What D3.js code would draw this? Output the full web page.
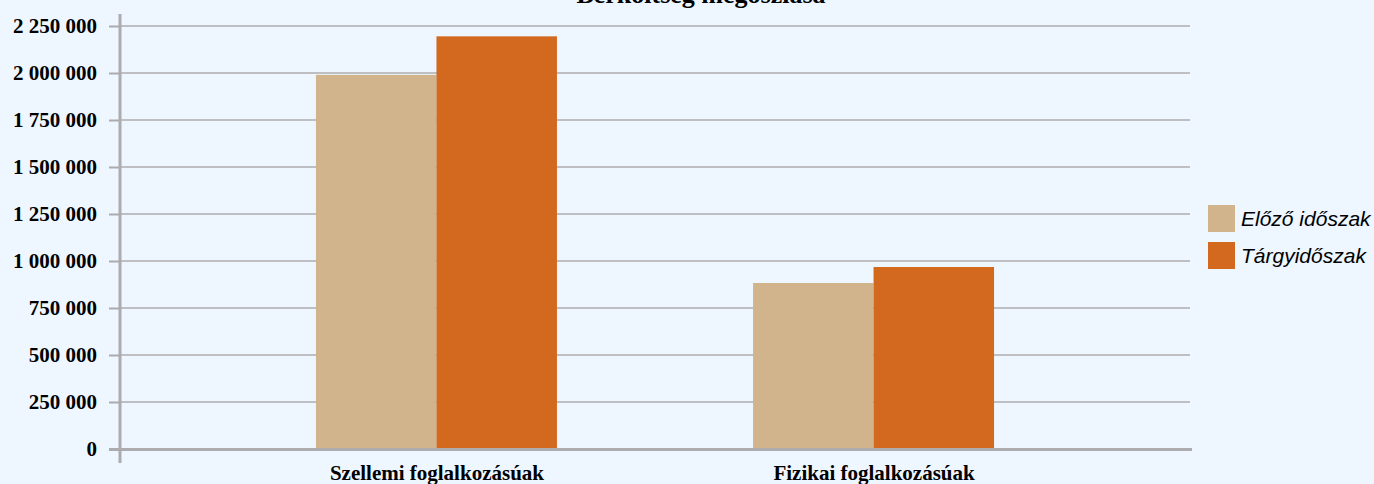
<!DOCTYPE html>
<html><head><meta charset="utf-8">
<script src="https://cdn.jsdelivr.net/npm/d3@7"></script>
<style>html,body{margin:0;padding:0;background:#eef6ff;}svg{display:block;}</style>
</head><body>
<svg id="c" width="1374" height="484"></svg>
<script>
const title = "Bérköltség megoszlása";
const categories = ["Szellemi foglalkozásúak", "Fizikai foglalkozásúak"];
const seriesNames = ["Előző időszak", "Tárgyidőszak"];
const previousValues = [1990000, 883000];
const currentValues = [2195000, 968000];
const tickValues = [0, 250000, 500000, 750000, 1000000, 1250000, 1500000, 1750000, 2000000, 2250000];
const colors = ["#d2b48c", "#d2691e"];

(function () {
const svg = d3.select("#c");
const mLeft = 120, mRight = 1190, mTop = 26, mBottom = 449;
const y = d3.scaleLinear().domain([0, 2250000]).range([mBottom, mTop]);
const x = d3.scalePoint().domain(categories).range([mLeft, mRight]).padding(0.724);
const xs = d3.scaleBand().domain(seriesNames).range([-120.5, 120.5]).padding(0);
const fmt = v => d3.format(",")(v).replace(/,/g, " ");
const gridColor = "#acacae";

// gridlines
svg.append("g").selectAll("line").data(tickValues.filter(d => d > 0)).join("line")
  .attr("x1", mLeft).attr("x2", mRight).attr("y1", d => y(d)).attr("y2", d => y(d))
  .attr("stroke", gridColor).attr("stroke-width", 1.5);

// bars
const data = categories.map((c, i) => ({c, vals: [previousValues[i], currentValues[i]]}));
const g = svg.append("g");
data.forEach(d => {
  d.vals.forEach((v, j) => {
    g.append("rect")
      .attr("x", x(d.c) + xs(seriesNames[j]))
      .attr("width", xs.bandwidth())
      .attr("y", y(v)).attr("height", y(0) - y(v))
      .attr("fill", colors[j]);
  });
});

// y axis
const ya = svg.append("g").attr("transform", `translate(${mLeft},0)`)
  .call(d3.axisLeft(y).tickValues(tickValues).tickFormat(fmt).tickSize(11).tickPadding(12));
ya.select(".domain").remove();
ya.selectAll(".tick line").attr("stroke", gridColor).attr("stroke-width", 2);
ya.selectAll(".tick text").attr("font-family", "'Liberation Serif', serif").attr("font-weight", "bold")
  .attr("font-size", 21).attr("fill", "#000");
svg.append("line").attr("x1", mLeft).attr("x2", mLeft).attr("y1", 14).attr("y2", 463)
  .attr("stroke", gridColor).attr("stroke-width", 3);

// x axis
svg.append("line").attr("x1", 109).attr("x2", 1192).attr("y1", mBottom + 0.5).attr("y2", mBottom + 0.5)
  .attr("stroke", gridColor).attr("stroke-width", 3);
const xa = svg.append("g").attr("transform", `translate(0,${mBottom})`)
  .call(d3.axisBottom(x).tickSize(0).tickPadding(16));
xa.select(".domain").remove();
xa.selectAll(".tick text").attr("font-family", "'Liberation Serif', serif").attr("font-weight", "bold")
  .attr("font-size", 21).attr("fill", "#000").attr("dy", "0.71em");

// title
svg.append("text").attr("x", 701).attr("y", 3).attr("text-anchor", "middle")
  .attr("font-family", "'Liberation Serif', serif").attr("font-weight", "bold").attr("font-size", 26)
  .attr("fill", "#000").text(title);

// legend
const lg = svg.append("g");
seriesNames.forEach((s, i) => {
  const yy = 205 + i * 37;
  lg.append("rect").attr("x", 1208).attr("y", yy).attr("width", 27).attr("height", 27).attr("fill", colors[i]);
  lg.append("text").attr("x", 1241).attr("y", yy + 21)
    .attr("font-family", "'Liberation Sans', Arial, sans-serif").attr("font-style", "italic")
    .attr("font-size", 21).attr("fill", "#000").text(s);
});
})();
</script>
</body></html>
